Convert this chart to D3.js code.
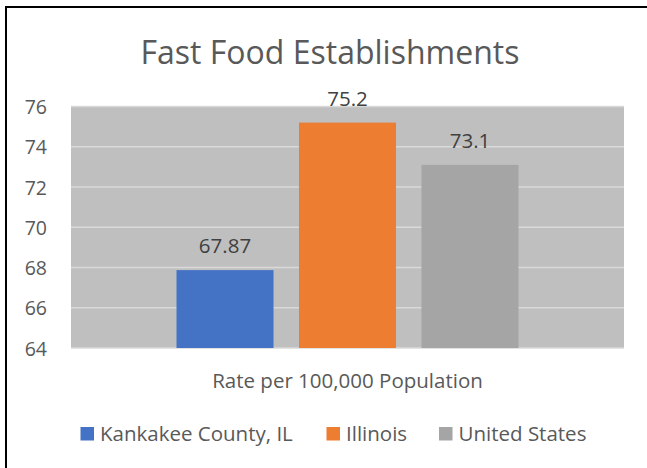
<!DOCTYPE html>
<html>
<head>
<meta charset="utf-8">
<script src="https://cdn.jsdelivr.net/npm/d3@7"></script>
<style>
  html, body { margin: 0; padding: 0; background: #fff; }
  svg { display: block; font-family: "Open Sans", "Liberation Sans", sans-serif; }
</style>
</head>
<body>
<svg id="chart" width="647" height="468"></svg>
<script>
// Fast food establishments per 100,000 population
const series = ["Kankakee County, IL", "Illinois", "United States"];
const values = [67.87, 75.2, 73.1];
const valueLabels = ["67.87", "75.2", "73.1"];
const colors = ["#4472C4", "#ED7D31", "#A5A5A5"];
const category = "Rate per 100,000 Population";
const yTicks = [64, 66, 68, 70, 72, 74, 76];

const svg = d3.select("#chart");

// outer frame
svg.append("rect")
  .attr("x", 6).attr("y", 7)
  .attr("width", 660).attr("height", 480)
  .attr("fill", "#fff").attr("stroke", "#000").attr("stroke-width", 2);

const plot = { left: 71, right: 624, top: 106.5, bottom: 348 };

const y = d3.scaleLinear().domain([64, 76]).range([plot.bottom, plot.top]);

// one category group holding the three series
const xCat = d3.scaleBand().domain([category])
  .range([plot.left, plot.right]).paddingInner(0).paddingOuter(0.3085);
const xSer = d3.scaleBand().domain(series)
  .range([0, xCat.bandwidth()]).paddingInner(0.208).paddingOuter(0);

// plot background
svg.append("rect")
  .attr("x", plot.left).attr("y", plot.top)
  .attr("width", plot.right - plot.left).attr("height", plot.bottom - plot.top)
  .attr("fill", "#BFBFBF");

// horizontal gridlines
svg.append("g")
  .selectAll("line").data(yTicks).join("line")
  .attr("x1", plot.left).attr("x2", plot.right)
  .attr("y1", d => y(d)).attr("y2", d => y(d))
  .attr("stroke", "#D9D9D9").attr("stroke-width", 1.5);

// y axis labels
const yAxis = d3.axisLeft(y).tickValues(yTicks).tickSize(0).tickPadding(0);
const yg = svg.append("g").attr("transform", `translate(47,0)`).call(yAxis);
yg.select(".domain").remove();
yg.selectAll("text")
  .attr("fill", "#595959").attr("font-size", 19.5)
  .attr("dy", "0.36em")
  .attr("font-family", "'Open Sans', sans-serif");

// bars
const barG = svg.append("g").attr("transform", `translate(${xCat(category)},0)`);
barG.selectAll("rect").data(values).join("rect")
  .attr("x", (d, i) => xSer(series[i]))
  .attr("y", d => y(d))
  .attr("width", xSer.bandwidth())
  .attr("height", d => plot.bottom - y(d))
  .attr("fill", (d, i) => colors[i]);

// value labels
barG.selectAll("text").data(values).join("text")
  .attr("x", (d, i) => xSer(series[i]) + xSer.bandwidth() / 2)
  .attr("y", d => y(d) - 17)
  .attr("text-anchor", "middle")
  .attr("fill", "#404040").attr("font-size", 20.5)
  .text((d, i) => valueLabels[i]);

// title
svg.append("text")
  .attr("x", 330).attr("y", 64)
  .attr("text-anchor", "middle")
  .attr("fill", "#595959").attr("font-size", 32)
  .text("Fast Food Establishments");

// category axis title
svg.append("text")
  .attr("x", (plot.left + plot.right) / 2).attr("y", 388)
  .attr("text-anchor", "middle")
  .attr("fill", "#595959").attr("font-size", 20.5)
  .text(category);

// legend
const legendX = [80.5, 326.5, 439];
const leg = svg.append("g").selectAll("g").data(series).join("g")
  .attr("transform", (d, i) => `translate(${legendX[i]},427)`);
leg.append("rect")
  .attr("width", 13.5).attr("height", 13.5)
  .attr("fill", (d, i) => colors[i]);
leg.append("text")
  .attr("x", 19.5).attr("y", 14)
  .attr("fill", "#595959").attr("font-size", 20.5)
  .text(d => d);
</script>
</body>
</html>
